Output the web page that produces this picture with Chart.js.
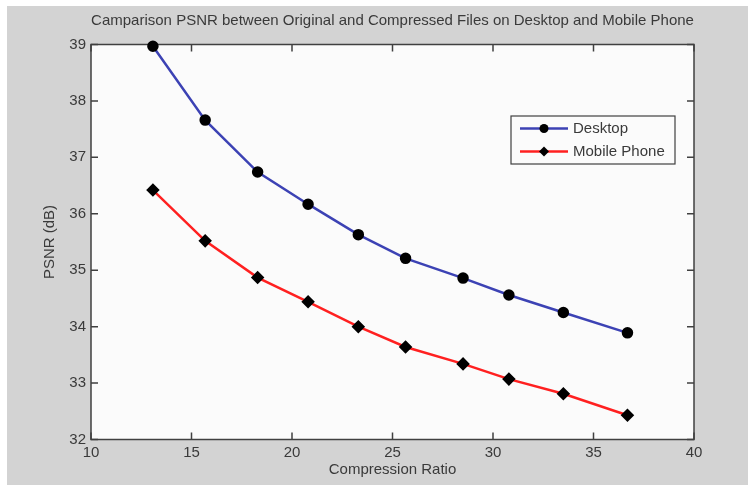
<!DOCTYPE html>
<html lang="en">
<head>
    <meta charset="UTF-8">
    <title>Camparison PSNR</title>
    <script src="https://cdn.jsdelivr.net/npm/chart.js"></script>
    <style>
        body {
            margin: 0;
            background: #ffffff;
        }
    </style>
</head>
<body>
    <canvas id="psnrChart" width="748" height="485"></canvas>

    <script>
        // Values
        const chartTitle = 'Camparison PSNR between Original and Compressed Files on Desktop and Mobile Phone';
        const compressionRatio = [13.08, 15.68, 18.29, 20.80, 23.30, 25.65, 28.51, 30.79, 33.50, 36.69];
        const desktopPsnr = [38.97, 37.66, 36.74, 36.17, 35.63, 35.21, 34.86, 34.56, 34.25, 33.89];
        const mobilePsnr = [36.42, 35.52, 34.87, 34.44, 34.00, 33.64, 33.34, 33.07, 32.81, 32.43];
        const seriesNames = ['Desktop', 'Mobile Phone'];

        const FONT = '"Liberation Sans", Arial, sans-serif';
        const TEXT = '#3a3a3a';

        function toPoints(ys) {
            return compressionRatio.map((x, i) => ({ x: x, y: ys[i] }));
        }

        // Grey figure background, boxed axes with inward ticks (matlab look), title and legend
        const matlabLook = {
            id: 'matlabLook',
            beforeDraw(chart) {
                const ctx = chart.ctx;
                const a = chart.chartArea;
                ctx.save();
                ctx.fillStyle = '#ffffff';
                ctx.fillRect(0, 0, chart.width, chart.height);
                ctx.fillStyle = '#d3d3d3';
                ctx.fillRect(7, 6, chart.width - 7, chart.height - 6);
                ctx.fillStyle = '#fbfbfb';
                ctx.fillRect(a.left, a.top, a.right - a.left, a.bottom - a.top);

                ctx.fillStyle = TEXT;
                ctx.font = '15px ' + FONT;
                ctx.textAlign = 'center';
                ctx.textBaseline = 'middle';
                ctx.fillText(chartTitle, (a.left + a.right) / 2, 21);
                ctx.restore();
            },
            beforeDatasetsDraw(chart) {
                const ctx = chart.ctx;
                const a = chart.chartArea;
                const xs = chart.scales.x, ys = chart.scales.y;
                const len = 7;
                ctx.save();
                ctx.strokeStyle = '#404040';
                ctx.lineWidth = 1.5;
                ctx.strokeRect(a.left, a.top, a.right - a.left, a.bottom - a.top);
                ctx.beginPath();
                xs.ticks.forEach(t => {
                    const px = xs.getPixelForValue(t.value);
                    ctx.moveTo(px, a.bottom); ctx.lineTo(px, a.bottom - len);
                    ctx.moveTo(px, a.top); ctx.lineTo(px, a.top + len);
                });
                ys.ticks.forEach(t => {
                    const py = ys.getPixelForValue(t.value);
                    ctx.moveTo(a.left, py); ctx.lineTo(a.left + len, py);
                    ctx.moveTo(a.right, py); ctx.lineTo(a.right - len, py);
                });
                ctx.stroke();
                ctx.restore();
            },
            afterDraw(chart) {
                const ctx = chart.ctx;
                const box = { left: 511, top: 116, right: 675, bottom: 164 };
                ctx.save();
                ctx.fillStyle = '#fbfbfb';
                ctx.fillRect(box.left, box.top, box.right - box.left, box.bottom - box.top);
                ctx.strokeStyle = '#404040';
                ctx.lineWidth = 1.2;
                ctx.strokeRect(box.left, box.top, box.right - box.left, box.bottom - box.top);
                chart.data.datasets.forEach((ds, i) => {
                    const y = 128.5 + i * 23;
                    ctx.strokeStyle = ds.borderColor;
                    ctx.lineWidth = 2.5;
                    ctx.beginPath();
                    ctx.moveTo(520, y); ctx.lineTo(568, y);
                    ctx.stroke();
                    ctx.fillStyle = '#000000';
                    ctx.beginPath();
                    if (ds.pointStyle === 'rectRot') {
                        ctx.moveTo(544, y - 5); ctx.lineTo(549, y); ctx.lineTo(544, y + 5); ctx.lineTo(539, y);
                    } else {
                        ctx.arc(544, y, 4.5, 0, Math.PI * 2);
                    }
                    ctx.fill();
                    ctx.fillStyle = TEXT;
                    ctx.font = '15px ' + FONT;
                    ctx.textAlign = 'left';
                    ctx.textBaseline = 'middle';
                    ctx.fillText(ds.label, 573, y);
                });
                ctx.restore();
            }
        };

        const ctx = document.getElementById('psnrChart').getContext('2d');
        new Chart(ctx, {
            type: 'line',
            data: {
                datasets: [{
                    label: seriesNames[0],
                    data: toPoints(desktopPsnr),
                    borderColor: '#3c42b4',
                    borderWidth: 2.5,
                    pointStyle: 'circle',
                    pointRadius: 4.5,
                    pointBackgroundColor: '#000000',
                    pointBorderColor: '#000000',
                    tension: 0,
                    clip: false
                }, {
                    label: seriesNames[1],
                    data: toPoints(mobilePsnr),
                    borderColor: '#ff2020',
                    borderWidth: 2.5,
                    pointStyle: 'rectRot',
                    pointRadius: 5,
                    pointBackgroundColor: '#000000',
                    pointBorderColor: '#000000',
                    tension: 0,
                    clip: false
                }]
            },
            options: {
                responsive: false,
                animation: false,
                layout: { padding: { left: 0, right: 54, top: 44.5, bottom: 0 } },
                plugins: {
                    legend: { display: false },
                    title: { display: false },
                    tooltip: { enabled: false }
                },
                scales: {
                    x: {
                        type: 'linear',
                        min: 10,
                        max: 40,
                        ticks: { stepSize: 5, color: TEXT, font: { family: FONT, size: 15 }, padding: 4, maxRotation: 0 },
                        grid: { display: false, drawTicks: false },
                        border: { display: false },
                        title: { display: true, text: 'Compression Ratio', color: TEXT, font: { family: FONT, size: 15 }, padding: { top: 0, bottom: 6 } },
                        afterFit(scale) { scale.height = 485 - 439.5; }
                    },
                    y: {
                        min: 32,
                        max: 39,
                        ticks: { stepSize: 1, color: TEXT, font: { family: FONT, size: 15 }, padding: 5 },
                        grid: { display: false, drawTicks: false },
                        border: { display: false },
                        title: { display: true, text: 'PSNR (dB)', color: TEXT, font: { family: FONT, size: 15 }, padding: { top: 41, bottom: 0 } },
                        afterFit(scale) { scale.width = 91; }
                    }
                }
            },
            plugins: [matlabLook]
        });
    </script>
</body>
</html>
